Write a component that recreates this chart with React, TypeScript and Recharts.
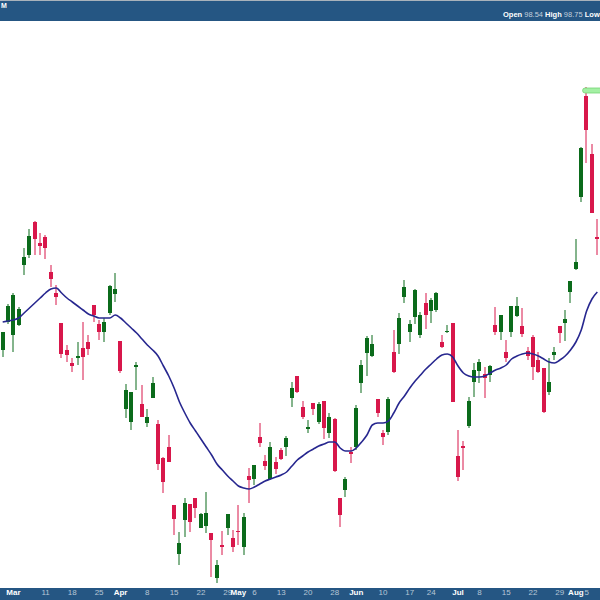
import { ComposedChart, Bar, Line, XAxis, YAxis, ReferenceDot } from 'recharts';

const dates = [
  '2-27', '2-28', '3-1', '3-4', '3-5', '3-6', '3-7', '3-8', '3-11', '3-12', '3-13', '3-14', '3-15',
  '3-18', '3-19', '3-20', '3-21', '3-22', '3-25', '3-26', '3-27', '3-28', '4-1', '4-2', '4-3', '4-4',
  '4-5', '4-8', '4-9', '4-10', '4-11', '4-12', '4-15', '4-16', '4-17', '4-18', '4-19', '4-22', '4-23',
  '4-24', '4-25', '4-26', '4-29', '4-30', '5-1', '5-2', '5-3', '5-6', '5-7', '5-8', '5-9', '5-10',
  '5-13', '5-14', '5-15', '5-16', '5-17', '5-20', '5-21', '5-22', '5-23', '5-24', '5-28', '5-29',
  '5-30', '5-31', '6-3', '6-4', '6-5', '6-6', '6-7', '6-10', '6-11', '6-12', '6-13', '6-14', '6-17',
  '6-18', '6-19', '6-20', '6-24', '6-25', '6-26', '6-27', '6-28', '7-1', '7-2', '7-3', '7-5', '7-8',
  '7-9', '7-10', '7-11', '7-12', '7-15', '7-16', '7-17', '7-18', '7-19', '7-22', '7-23', '7-24',
  '7-25', '7-26', '7-29', '7-30', '7-31', '8-1', '8-2', '8-5', '8-6', '8-7',
];

const opens = [
  97.44, 97.72, 97.59, 97.69, 98.29, 98.39, 98.72, 98.51, 98.57, 98.22, 98.01, 97.71, 97.44, 97.31,
  97.36, 97.46, 97.52, 97.89, 97.7, 97.62, 97.81, 98.0, 97.53, 96.85, 96.72, 97.27, 96.9, 96.71,
  96.96, 96.7, 96.36, 96.47, 95.89, 95.4, 95.74, 95.9, 95.96, 95.66, 95.68, 95.61, 95.16, 95.49,
  95.66, 95.56, 95.63, 95.47, 96.18, 96.15, 96.57, 96.33, 96.15, 96.32, 96.44, 96.47, 96.96, 97.18,
  96.87, 96.65, 96.91, 96.72, 96.93, 96.61, 96.75, 95.96, 96.04, 96.42, 96.47, 97.11, 97.41, 97.38,
  96.95, 96.61, 96.62, 97.42, 97.5, 97.97, 97.62, 97.77, 97.59, 97.91, 97.83, 97.84, 97.52, 97.62,
  97.71, 96.38, 96.48, 96.68, 97.12, 97.23, 97.2, 97.19, 97.69, 97.62, 97.42, 97.62, 97.78, 97.68,
  97.43, 97.57, 97.34, 97.26, 97.02, 97.39, 97.68, 97.71, 98.02, 98.25, 98.97, 99.98, 99.4, 98.57,
];

const highs = [
  97.62, 97.9, 98.01, 97.87, 98.46, 98.65, 98.73, 98.61, 98.59, 98.29, 98.09, 97.71, 97.49, 97.36,
  97.52, 97.72, 97.59, 97.89, 97.74, 97.76, 98.09, 98.21, 97.53, 97.1, 97.02, 97.32, 97.09, 96.85,
  97.17, 96.74, 96.37, 96.59, 95.89, 95.62, 95.96, 95.9, 95.96, 95.81, 96.02, 95.61, 95.34, 95.63,
  95.8, 95.64, 95.89, 95.81, 96.26, 96.29, 96.71, 96.39, 96.52, 96.37, 96.46, 96.58, 97.12, 97.18,
  96.93, 96.74, 96.91, 96.92, 96.93, 96.81, 96.76, 95.96, 96.17, 96.47, 96.89, 97.34, 97.58, 97.59,
  96.95, 96.64, 96.97, 97.64, 97.81, 98.14, 97.74, 98.05, 97.82, 98.01, 97.96, 98.02, 97.59, 97.69,
  97.71, 96.64, 96.53, 96.97, 97.31, 97.35, 97.27, 97.29, 97.87, 97.79, 97.54, 97.88, 97.97, 97.86,
  97.47, 97.59, 97.42, 97.26, 97.36, 97.47, 97.68, 97.84, 98.13, 98.55, 99.47, 100.07, 99.5, 98.75,
];

const lows = [
  97.37, 97.7, 97.42, 97.68, 98.19, 98.36, 98.39, 98.39, 98.35, 98.07, 97.89, 97.36, 97.32, 97.22,
  97.29, 97.14, 97.39, 97.72, 97.54, 97.52, 97.79, 97.92, 97.21, 96.76, 96.64, 97.04, 96.77, 96.67,
  96.96, 96.24, 96.01, 96.32, 95.59, 95.29, 95.57, 95.62, 95.76, 95.66, 95.61, 95.17, 95.11, 95.39,
  95.59, 95.42, 95.49, 95.39, 95.91, 96.09, 96.47, 96.24, 96.14, 96.2, 96.34, 96.38, 96.87, 97.01,
  96.75, 96.61, 96.79, 96.7, 96.55, 96.56, 96.22, 95.67, 95.97, 96.31, 96.44, 97.01, 97.18, 97.37,
  96.77, 96.49, 96.59, 97.21, 97.4, 97.91, 97.52, 97.7, 97.56, 97.65, 97.71, 97.82, 97.46, 97.61,
  96.92, 96.13, 96.24, 96.66, 96.97, 97.11, 96.96, 97.12, 97.59, 97.54, 97.32, 97.57, 97.77, 97.57,
  97.34, 97.14, 97.21, 96.81, 96.99, 97.34, 97.51, 97.53, 97.91, 98.24, 98.92, 99.31, 98.81, 98.39,
];

const closes = [
  97.62, 97.88, 97.99, 97.85, 98.37, 98.58, 98.55, 98.48, 98.46, 98.15, 97.97, 97.4, 97.39, 97.28,
  97.38, 97.37, 97.45, 97.79, 97.62, 97.72, 98.08, 98.05, 97.23, 97.04, 97.02, 97.29, 96.77, 96.77,
  97.11, 96.3, 96.12, 96.32, 95.75, 95.51, 95.91, 95.72, 95.86, 95.8, 95.81, 95.54, 95.29, 95.47,
  95.8, 95.47, 95.62, 95.77, 96.14, 96.29, 96.51, 96.28, 96.47, 96.25, 96.35, 96.56, 97.06, 97.02,
  96.77, 96.67, 96.85, 96.9, 96.66, 96.77, 96.23, 95.79, 96.15, 96.4, 96.86, 97.29, 97.56, 97.5,
  96.81, 96.57, 96.95, 97.22, 97.76, 98.07, 97.7, 98.04, 97.79, 97.79, 97.94, 98.01, 97.47, 97.63,
  96.92, 96.17, 96.46, 96.93, 97.24, 97.32, 97.16, 97.28, 97.62, 97.79, 97.36, 97.88, 97.88, 97.6,
  97.38, 97.27, 97.22, 96.82, 97.12, 97.42, 97.61, 97.75, 98.13, 98.32, 99.46, 99.64, 98.81, 98.55,
];

// moving average as drawn in the chart
const movingAvg = [
  97.72, 97.73, 97.74, 97.76, 97.81, 97.86, 97.91, 97.96, 98.01, 98.05, 98.06, 98.01, 97.96, 97.92,
  97.88, 97.84, 97.8, 97.78, 97.76, 97.76, 97.76, 97.79, 97.76, 97.71, 97.66, 97.61, 97.55, 97.49,
  97.44, 97.38, 97.28, 97.18, 97.06, 96.92, 96.81, 96.71, 96.63, 96.55, 96.47, 96.39, 96.3, 96.24,
  96.18, 96.13, 96.08, 96.06, 96.05, 96.07, 96.1, 96.13, 96.15, 96.17, 96.19, 96.22, 96.28, 96.34,
  96.38, 96.42, 96.45, 96.48, 96.5, 96.52, 96.52, 96.46, 96.43, 96.43, 96.46, 96.52, 96.59, 96.69,
  96.71, 96.71, 96.73, 96.81, 96.91, 96.98, 97.06, 97.13, 97.19, 97.25, 97.3, 97.35, 97.39, 97.4,
  97.37, 97.28, 97.21, 97.18, 97.17, 97.17, 97.18, 97.21, 97.24, 97.26, 97.29, 97.35, 97.38, 97.4,
  97.41, 97.4, 97.38, 97.35, 97.32, 97.31, 97.34, 97.38, 97.44, 97.52, 97.64, 97.83, 97.95, 98.02,
];

const weekTicks = [
  '3-1', '3-11', '3-18', '3-25', '4-1', '4-8', '4-15', '4-22', '4-29', '5-1', '5-6', '5-13', '5-20',
  '5-28', '6-3', '6-10', '6-17', '6-24', '7-1', '7-8', '7-15', '7-22', '7-29', '8-1', '8-5',
];
const monthTicks = ['3-1', '4-1', '5-1', '6-3', '7-1', '8-1'];
const monthNames = ['Mar', 'Apr', 'May', 'Jun', 'Jul', 'Aug'];

const data = dates.map((d, i) => ({
  date: d,
  open: opens[i],
  high: highs[i],
  low: lows[i],
  close: closes[i],
  ma: movingAvg[i],
}));

const topHigh = Math.max(...highs);
const topDate = dates[highs.indexOf(topHigh)];

const UP = '#0b6b1b';
const DOWN = '#d8174b';
const BAND = '#255683';
const FONT = '"Liberation Sans", Arial, sans-serif';

function Candle(props: any) {
  const { x, y, width, height, payload } = props;
  const top = Math.min(y, y + height);
  const bottom = Math.max(y, y + height);
  const { open, high, low, close } = payload;
  const span = high - low || 1;
  const toY = (v: number) => top + ((high - v) / span) * (bottom - top);
  const up = close >= open;
  const c = Math.round(x + width / 2);
  const bodyTop = toY(Math.max(open, close));
  const bodyH = Math.max(toY(Math.min(open, close)) - bodyTop, 1);
  const color = up ? UP : DOWN;
  return (
    <g>
      <line x1={c} x2={c} y1={top} y2={bottom} stroke={color} strokeWidth={1} />
      <rect x={c - 2} y={bodyTop} width={4} height={bodyH} fill={color} />
    </g>
  );
}

function DateTick(props: any) {
  const { x, y, payload } = props;
  const m = monthTicks.indexOf(payload.value);
  const isMonth = m >= 0;
  const label = isMonth ? monthNames[m] : payload.value.split('-')[1];
  return (
    <text
      x={x}
      y={y + 7}
      textAnchor="middle"
      fontSize={8}
      fontFamily={FONT}
      fontWeight={isMonth ? 'bold' : 'normal'}
      fill={isMonth ? '#ffffff' : '#b7c6d6'}
    >
      {label}
    </text>
  );
}

export default function App() {
  return (
    <div
      style={{
        position: 'absolute',
        left: 0,
        top: 0,
        width: 600,
        height: 600,
        background: '#ffffff',
        overflow: 'hidden',
        fontFamily: FONT,
      }}
    >
      <div style={{ position: 'absolute', left: 0, top: 0, width: 600, height: 1, background: '#a9b2bb' }} />
      <div style={{ position: 'absolute', left: 0, top: 1, width: 600, height: 20, background: BAND }}>
        <span style={{ position: 'absolute', left: 1, top: 1, fontSize: 7, fontWeight: 'bold', color: '#fff' }}>
          M
        </span>
        <div
          style={{
            position: 'absolute',
            left: 503,
            top: 9,
            fontSize: 7.5,
            lineHeight: '10px',
            whiteSpace: 'nowrap',
            color: '#c3cfdc',
          }}
        >
          <b style={{ color: '#fff' }}>Open</b> 98.54 <b style={{ color: '#fff' }}>High</b> 98.75{' '}
          <b style={{ color: '#fff' }}>Low</b>
        </div>
      </div>
      <div style={{ position: 'absolute', left: 0, top: 588, width: 600, height: 12, background: BAND }} />
      <div style={{ position: 'absolute', left: 0, top: 0 }}>
        <ComposedChart width={600} height={600} data={data} margin={{ top: 22, right: 0, bottom: 0, left: 0 }}>
          <XAxis
            dataKey="date"
            height={12}
            ticks={weekTicks}
            interval={0}
            axisLine={false}
            tickLine={false}
            tickSize={0}
            tickMargin={0}
            tick={<DateTick />}
          />
          <YAxis hide domain={[95.06, 100.72]} allowDataOverflow />
          <ReferenceDot
            x={topDate}
            y={topHigh}
            shape={(p: any) => (
              <rect x={p.cx - 4} y={p.cy + 1} width={22} height={5} rx={2.5} fill="#a4f0a4" stroke="#74d474" strokeWidth={0.8} />
            )}
          />
          <Bar
            dataKey={(d: any) => [d.low, d.high]}
            shape={(p: any) => <Candle {...p} />}
            isAnimationActive={false}
          />
          <Line
            type="monotone"
            dataKey="ma"
            stroke="#27278f"
            strokeWidth={1.6}
            dot={false}
            activeDot={false}
            isAnimationActive={false}
          />
        </ComposedChart>
      </div>
    </div>
  );
}
